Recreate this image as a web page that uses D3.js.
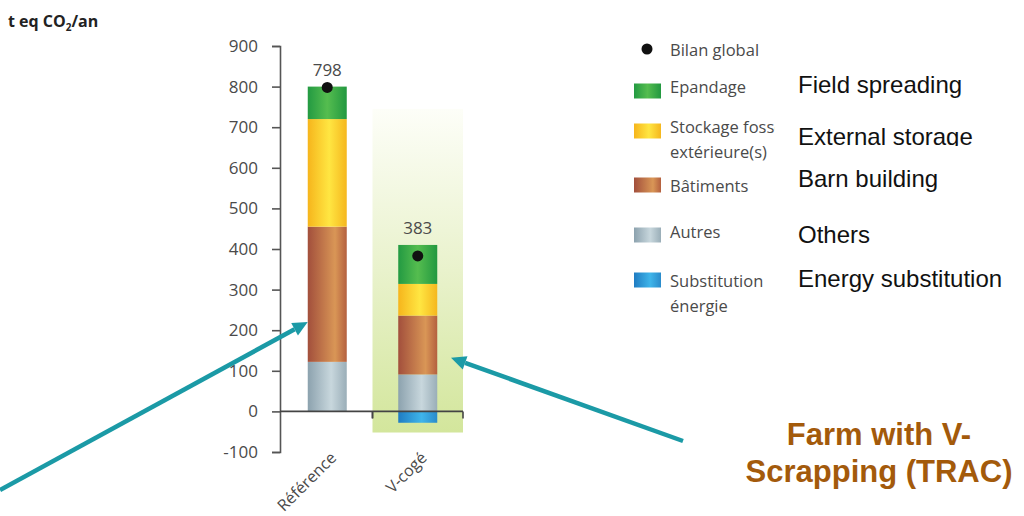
<!DOCTYPE html>
<html>
<head>
<meta charset="utf-8">
<script src="https://cdn.jsdelivr.net/npm/d3@7"></script>
<style>
body { margin: 0; background: #fff; }
svg { display: block; }
</style>
</head>
<body>
<svg id="chart" width="1024" height="516"></svg>
<script>
var categories = ["Référence", "V-cogé"];
var seriesKeys = ["substitution", "autres", "batiments", "stockage", "epandage"];
var substitution = [0, -28];
var autres = [122, 91];
var batiments = [333, 145];
var stockage = [265, 78];
var epandage = [80, 96];
var bilan = [798, 383];
var yTicks = [-100, 0, 100, 200, 300, 400, 500, 600, 700, 800, 900];

var legendFr = [["Bilan global"], ["Epandage"], ["Stockage fosse", "extérieure(s)"], ["Bâtiments"], ["Autres"], ["Substitution", "énergie"]];
var legendEn = ["", "Field spreading", "External storage", "Barn building", "Others", "Energy substitution"];
var legendKeys = ["bilan", "epandage", "stockage", "batiments", "autres", "substitution"];

var svg = d3.select("#chart");
var defs = svg.append("defs");

var y = d3.scaleLinear().domain([-100, 900]).range([452, 46]);
var x = d3.scaleBand().domain(categories).range([282, 463]).padding(0);
var barW = 39;

// horizontal shading for the cylinder look
var shades = {
    epandage: [[0, "#239a42"], [0.5, "#55bd4f"], [1, "#229840"]],
    stockage: [[0, "#f6b51c"], [0.55, "#ffe642"], [1, "#f5b71e"]],
    batiments: [[0, "#a24f3c"], [0.7, "#d99656"], [1, "#b4603f"]],
    autres: [[0, "#8ca2ae"], [0.6, "#c8d7dd"], [1, "#9aaeb8"]],
    substitution: [[0, "#1f7cc2"], [0.6, "#3fb5ea"], [1, "#2a8bcb"]]
};
Object.keys(shades).forEach(function (k) {
    var g = defs.append("linearGradient").attr("id", "g-" + k).attr("x1", 0).attr("x2", 1).attr("y1", 0).attr("y2", 0);
    shades[k].forEach(function (s) {
        g.append("stop").attr("offset", s[0]).attr("stop-color", s[1]);
    });
});
var bg = defs.append("linearGradient").attr("id", "g-bg").attr("x1", 0).attr("x2", 0).attr("y1", 0).attr("y2", 1);
bg.append("stop").attr("offset", 0).attr("stop-color", "#fdfef8");
bg.append("stop").attr("offset", 0.5).attr("stop-color", "#e9f2cc");
bg.append("stop").attr("offset", 1).attr("stop-color", "#d3e69c");

// green background behind V-cogé
svg.append("rect")
    .attr("x", x("V-cogé")).attr("width", x.bandwidth())
    .attr("y", y(745)).attr("height", y(-52) - y(745))
    .attr("fill", "url(#g-bg)");

// title
svg.append("text").attr("x", 8).attr("y", 27)
    .style("font-family", "Open Sans").style("font-weight", "bold").style("font-size", "16px").style("fill", "#222")
    .html('t eq CO<tspan dy="4" style="font-size:10px">2</tspan><tspan dy="-4">/an</tspan>');

// stacked bars
var data = categories.map(function (c, i) {
    return { cat: c, substitution: substitution[i], autres: autres[i], batiments: batiments[i], stockage: stockage[i], epandage: epandage[i] };
});
var stacked = d3.stack().keys(seriesKeys).offset(d3.stackOffsetDiverging)(data);
stacked.forEach(function (layer) {
    svg.append("g").selectAll("rect").data(layer).enter().append("rect")
        .attr("x", function (d) { return x(d.data.cat) + x.bandwidth() / 2 - barW / 2; })
        .attr("width", barW)
        .attr("y", function (d) { return y(d[1]); })
        .attr("height", function (d) { return y(d[0]) - y(d[1]); })
        .attr("fill", "url(#g-" + layer.key + ")");
});

// y axis
var yAxis = d3.axisLeft(y).tickValues(yTicks).tickSize(8).tickSizeOuter(8).tickPadding(14)
    .tickFormat(function (d) { return String(d); });
var ya = svg.append("g").attr("transform", "translate(280,0)").call(yAxis);
ya.select(".domain").attr("stroke", "#555").attr("stroke-width", 1.6);
ya.selectAll(".tick line").attr("stroke", "#555").attr("stroke-width", 1.6);
ya.selectAll("text").style("font-family", "Open Sans").style("font-size", "17px").style("fill", "#4a4a4a");

// x axis at zero with ticks on band edges
svg.append("line").attr("x1", 280).attr("x2", x.range()[1]).attr("y1", y(0)).attr("y2", y(0))
    .attr("stroke", "#444").attr("stroke-width", 1.6);
categories.forEach(function (c) {
    svg.append("line").attr("x1", x(c) + x.bandwidth()).attr("x2", x(c) + x.bandwidth())
        .attr("y1", y(0)).attr("y2", y(0) + 7).attr("stroke", "#444").attr("stroke-width", 1.6);
});
svg.append("line").attr("x1", x("V-cogé")).attr("x2", x("V-cogé"))
    .attr("y1", y(0)).attr("y2", y(0) + 7).attr("stroke", "#444").attr("stroke-width", 1.6);

categories.forEach(function (c) {
    var cx = x(c) + x.bandwidth() / 2 + 10;
    svg.append("text").attr("transform", "translate(" + cx + "," + (y(-100) + 7) + ") rotate(-45)")
        .attr("text-anchor", "end")
        .style("font-family", "Open Sans").style("font-size", "16px").style("fill", "#4a4a4a")
        .text(c);
});

// bilan global dots and labels
categories.forEach(function (c, i) {
    var cx = x(c) + x.bandwidth() / 2;
    var top = d3.max(stacked, function (l) { return l[i][1]; });
    svg.append("circle").attr("cx", cx).attr("cy", y(bilan[i])).attr("r", 5.5).attr("fill", "#111");
    svg.append("text").attr("x", cx).attr("y", y(top) - 11).attr("text-anchor", "middle")
        .style("font-family", "Open Sans").style("font-size", "17px").style("fill", "#4a4a4a")
        .text(bilan[i]);
});

// legend
var legY = [49, 91, 131, 185, 235, 280];
var frBase = [56, 93, 133, 192, 238, 287];
var enBase = [0, 93, 145, 187, 243, 287];
defs.append("clipPath").attr("id", "clip-fos").append("rect").attr("x", 600).attr("y", 100).attr("width", 175).attr("height", 70);
defs.append("clipPath").attr("id", "clip-ext").append("rect").attr("x", 780).attr("y", 100).attr("width", 240).attr("height", 46);
legendKeys.forEach(function (k, i) {
    if (k === "bilan") {
        svg.append("circle").attr("cx", 647).attr("cy", legY[i]).attr("r", 5.5).attr("fill", "#111");
    } else {
        svg.append("rect").attr("x", 634).attr("y", legY[i] - 7.5).attr("width", 27).attr("height", 15)
            .attr("fill", "url(#g-" + k + ")");
    }
    var t = svg.append("text").attr("x", 670).attr("y", frBase[i])
        .style("font-family", "Open Sans").style("font-size", "16.5px").style("fill", "#4a4a4a");
    if (k === "stockage") t.attr("clip-path", "url(#clip-fos)");
    legendFr[i].forEach(function (line, j) {
        t.append("tspan").attr("x", 670).attr("dy", j === 0 ? 0 : 25).text(line);
    });
    if (legendEn[i]) {
        var e = svg.append("text").attr("x", 798).attr("y", enBase[i])
            .style("font-family", "Liberation Sans").style("font-size", "24px").style("fill", "#111")
            .text(legendEn[i]);
        if (k === "stockage") e.attr("clip-path", "url(#clip-ext)");
    }
});

// annotation arrows
var teal = "#1b9aa6";
function arrow(x1, y1, x2, y2) {
    var a = Math.atan2(y2 - y1, x2 - x1);
    var len = 15, half = 7;
    var bx = x2 - len * Math.cos(a), by = y2 - len * Math.sin(a);
    svg.append("line").attr("x1", x1).attr("y1", y1).attr("x2", bx).attr("y2", by)
        .attr("stroke", teal).attr("stroke-width", 4.5);
    svg.append("path")
        .attr("d", "M" + x2 + "," + y2 +
            "L" + (bx + half * Math.sin(a)) + "," + (by - half * Math.cos(a)) +
            "L" + (bx - half * Math.sin(a)) + "," + (by + half * Math.cos(a)) + "Z")
        .attr("fill", teal);
}
arrow(0, 490, x("Référence") + x.bandwidth() / 2 - barW / 2, y(220));
arrow(683, 441, x("V-cogé") + x.bandwidth() - 12, y(132));

// caption
var cap = svg.append("text").attr("text-anchor", "middle")
    .style("font-family", "Liberation Sans").style("font-weight", "bold").style("font-size", "31px").style("fill", "#a35a0b");
cap.append("tspan").attr("x", 879).attr("y", 445).text("Farm with V-");
cap.append("tspan").attr("x", 879).attr("y", 482).text("Scrapping (TRAC)");
</script>
</body>
</html>
